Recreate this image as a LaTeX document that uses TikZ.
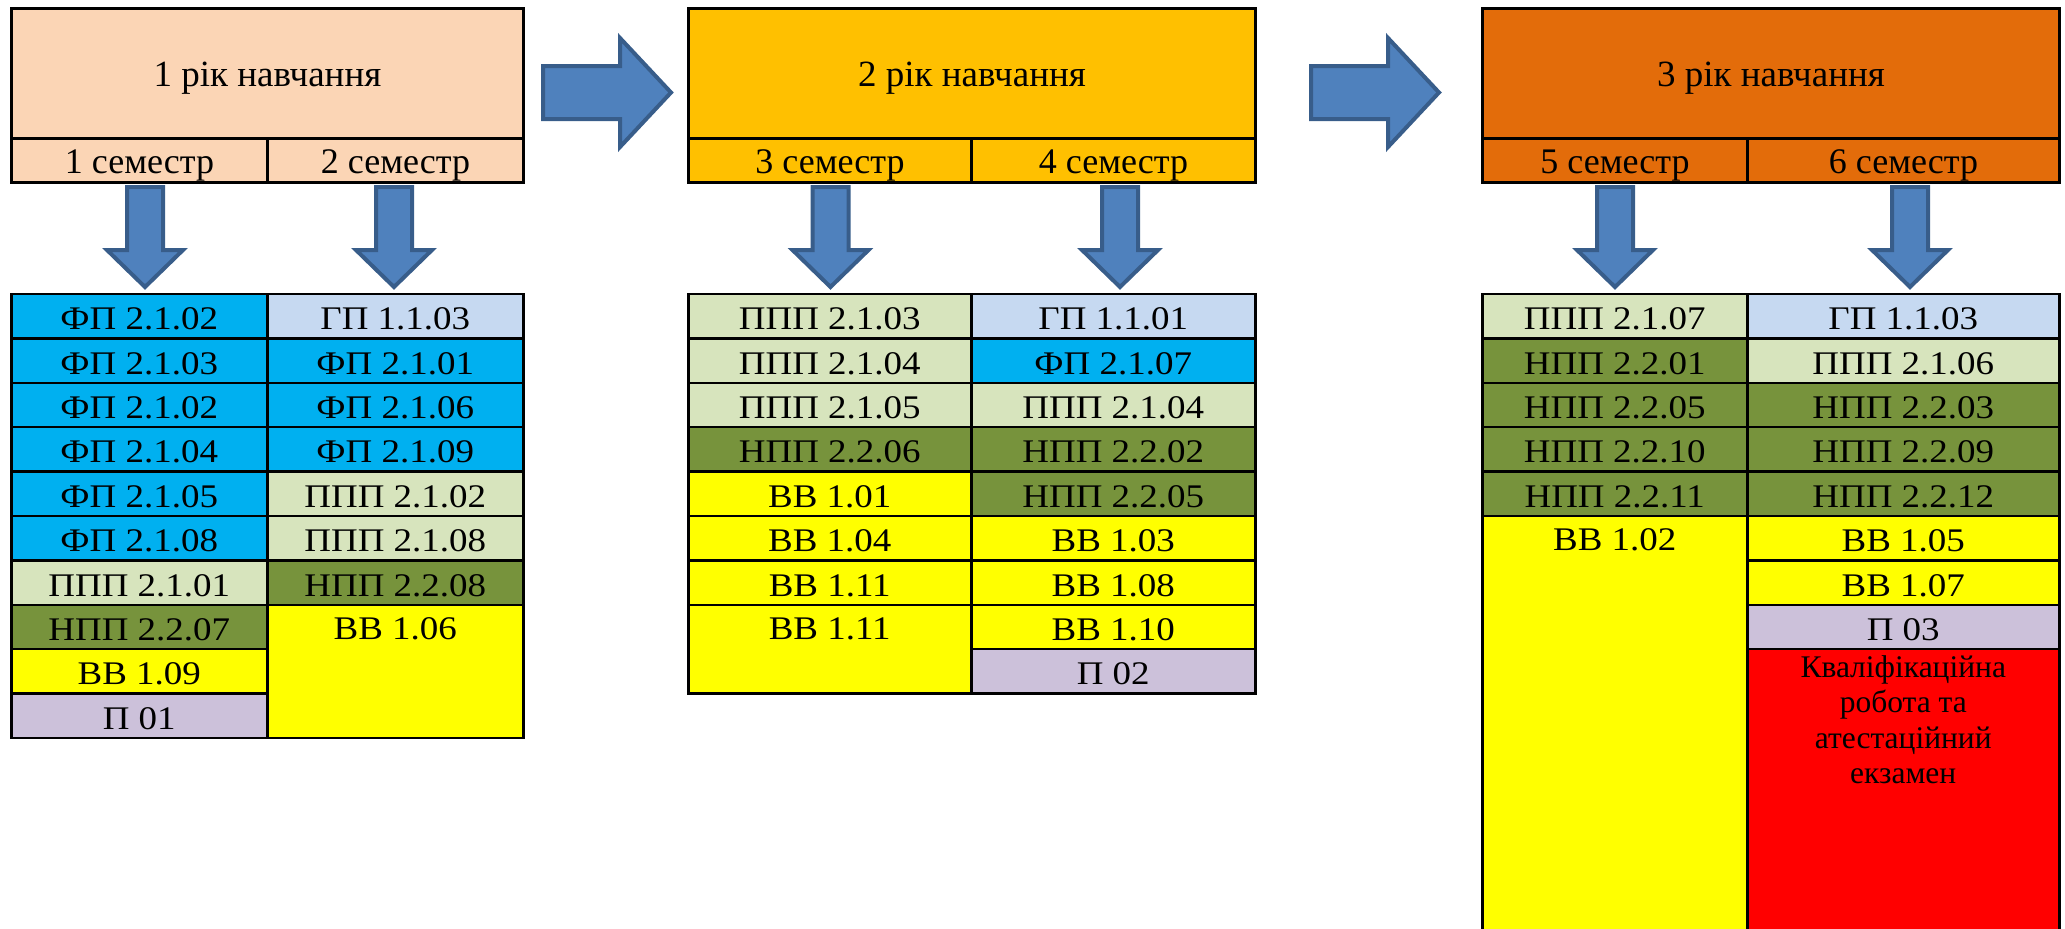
\documentclass[tikz,border=0pt]{standalone}
\usepackage{fontspec}
\setmainfont{Liberation Serif}
\newfontfamily\cellfnt[FakeStretch=1.12]{Liberation Serif}
\usetikzlibrary{calc}
\definecolor{hdrA}{RGB}{251,213,181}
\definecolor{hdrB}{RGB}{255,192,0}
\definecolor{hdrC}{RGB}{227,108,10}
\definecolor{cFP}{RGB}{0,176,240}
\definecolor{cGP}{RGB}{198,217,241}
\definecolor{cPPP}{RGB}{215,228,189}
\definecolor{cNPP}{RGB}{119,147,60}
\definecolor{cVV}{RGB}{255,255,0}
\definecolor{cP}{RGB}{204,193,218}
\definecolor{cRed}{RGB}{255,0,0}
\definecolor{arrFill}{RGB}{79,129,189}
\definecolor{arrLine}{RGB}{56,93,138}
\newcommand\mycell[6]{\node[cellbox, fill=#5, minimum width=#4] (#1) at (#2,#3) {#6};}
\newcommand\downblock[1]{\draw[blk] (#1-18,187) -- (#1+18,187) -- (#1+18,250) -- (#1+38,250) -- (#1,287) -- (#1-38,250) -- (#1-18,250) -- cycle;}
\newcommand\rightblock[1]{\draw[blk] (#1+2,66) -- (#1+79,66) -- (#1+79,38) -- (#1+130,92.5) -- (#1+79,147) -- (#1+79,119) -- (#1+2,119) -- cycle;}
\begin{document}
\begin{tikzpicture}[x=1pt,y=-1pt,
  cellbox/.style={draw=black, line width=2.5pt, rectangle, inner sep=0pt, anchor=north west,
     minimum height=44.4pt, font=\cellfnt\fontsize{33}{38}\selectfont, text height=27pt, text depth=0pt},
  spanbox/.style={draw=black, line width=2.5pt, rectangle, inner sep=0pt, anchor=north west},
  spantext/.style={inner sep=0pt, font=\cellfnt\fontsize{33}{38}\selectfont, text height=27pt, text depth=0pt},
  yearbox/.style={draw=black, line width=3pt, rectangle, inner sep=0pt, anchor=north west,
     minimum height=130pt, font=\fontsize{37}{42}\selectfont, text height=26pt, text depth=0pt},
  sembox/.style={draw=black, line width=3pt, rectangle, inner sep=0pt, anchor=north west,
     minimum height=44pt, font=\fontsize{36}{42}\selectfont, text height=25.4pt, text depth=0pt},
  blk/.style={fill=arrFill, draw=arrLine, line width=4pt, line join=miter}
]
\useasboundingbox (0,0) rectangle (2065,929);

% ---------- Year 1 ----------
\node[yearbox, fill=hdrA, minimum width=512] (y1) at (10,7) {1 рік навчання};
\node[sembox, fill=hdrA, minimum width=256] (s1) at (10,137) {1 семестр};
\node[sembox, fill=hdrA, minimum width=256] (s2) at (266,137) {2 семестр};

\mycell{a1}{10}{292.7}{256}{cFP}{ФП 2.1.02}
\mycell{a2}{10}{337.1}{256}{cFP}{ФП 2.1.03}
\mycell{a3}{10}{381.5}{256}{cFP}{ФП 2.1.02}
\mycell{a4}{10}{425.9}{256}{cFP}{ФП 2.1.04}
\mycell{a5}{10}{470.3}{256}{cFP}{ФП 2.1.05}
\mycell{a6}{10}{514.7}{256}{cFP}{ФП 2.1.08}
\mycell{a7}{10}{559.1}{256}{cPPP}{ППП 2.1.01}
\mycell{a8}{10}{603.5}{256}{cNPP}{НПП 2.2.07}
\mycell{a9}{10}{647.9}{256}{cVV}{ВВ 1.09}
\mycell{a10}{10}{692.3}{256}{cP}{П 01}

\mycell{b1}{266}{292.7}{256}{cGP}{ГП 1.1.03}
\mycell{b2}{266}{337.1}{256}{cFP}{ФП 2.1.01}
\mycell{b3}{266}{381.5}{256}{cFP}{ФП 2.1.06}
\mycell{b4}{266}{425.9}{256}{cFP}{ФП 2.1.09}
\mycell{b5}{266}{470.3}{256}{cPPP}{ППП 2.1.02}
\mycell{b6}{266}{514.7}{256}{cPPP}{ППП 2.1.08}
\mycell{b7}{266}{559.1}{256}{cNPP}{НПП 2.2.08}
\node[spanbox, fill=cVV, minimum width=256, minimum height=133.2] (b8) at (266,603.5) {};
\node[spantext] (b8t) at ($(b8.north)+(0,22.2)$) {ВВ 1.06};

% ---------- Year 2 ----------
\node[yearbox, fill=hdrB, minimum width=567] (y2) at (687,7) {2 рік навчання};
\node[sembox, fill=hdrB, minimum width=283] (s3) at (687,137) {3 семестр};
\node[sembox, fill=hdrB, minimum width=284] (s4) at (970,137) {4 семестр};

\mycell{c1}{687}{292.7}{283}{cPPP}{ППП 2.1.03}
\mycell{c2}{687}{337.1}{283}{cPPP}{ППП 2.1.04}
\mycell{c3}{687}{381.5}{283}{cPPP}{ППП 2.1.05}
\mycell{c4}{687}{425.9}{283}{cNPP}{НПП 2.2.06}
\mycell{c5}{687}{470.3}{283}{cVV}{ВВ 1.01}
\mycell{c6}{687}{514.7}{283}{cVV}{ВВ 1.04}
\mycell{c7}{687}{559.1}{283}{cVV}{ВВ 1.11}
\node[spanbox, fill=cVV, minimum width=283, minimum height=88.8] (c8) at (687,603.5) {};
\node[spantext] (c8t) at ($(c8.north)+(0,22.2)$) {ВВ 1.11};

\mycell{d1}{970}{292.7}{284}{cGP}{ГП 1.1.01}
\mycell{d2}{970}{337.1}{284}{cFP}{ФП 2.1.07}
\mycell{d3}{970}{381.5}{284}{cPPP}{ППП 2.1.04}
\mycell{d4}{970}{425.9}{284}{cNPP}{НПП 2.2.02}
\mycell{d5}{970}{470.3}{284}{cNPP}{НПП 2.2.05}
\mycell{d6}{970}{514.7}{284}{cVV}{ВВ 1.03}
\mycell{d7}{970}{559.1}{284}{cVV}{ВВ 1.08}
\mycell{d8}{970}{603.5}{284}{cVV}{ВВ 1.10}
\mycell{d9}{970}{647.9}{284}{cP}{П 02}

% ---------- Year 3 ----------
\node[yearbox, fill=hdrC, minimum width=577] (y3) at (1481,7) {3 рік навчання};
\node[sembox, fill=hdrC, minimum width=265] (s5) at (1481,137) {5 семестр};
\node[sembox, fill=hdrC, minimum width=312] (s6) at (1746,137) {6 семестр};

\mycell{e1}{1481}{292.7}{265}{cPPP}{ППП 2.1.07}
\mycell{e2}{1481}{337.1}{265}{cNPP}{НПП 2.2.01}
\mycell{e3}{1481}{381.5}{265}{cNPP}{НПП 2.2.05}
\mycell{e4}{1481}{425.9}{265}{cNPP}{НПП 2.2.10}
\mycell{e5}{1481}{470.3}{265}{cNPP}{НПП 2.2.11}
\node[spanbox, fill=cVV, minimum width=265, minimum height=440] (e6) at (1481,514.7) {};
\node[spantext] (e6t) at ($(e6.north)+(0,22.2)$) {ВВ 1.02};

\mycell{f1}{1746}{292.7}{312}{cGP}{ГП 1.1.03}
\mycell{f2}{1746}{337.1}{312}{cPPP}{ППП 2.1.06}
\mycell{f3}{1746}{381.5}{312}{cNPP}{НПП 2.2.03}
\mycell{f4}{1746}{425.9}{312}{cNPP}{НПП 2.2.09}
\mycell{f5}{1746}{470.3}{312}{cNPP}{НПП 2.2.12}
\mycell{f6}{1746}{514.7}{312}{cVV}{ВВ 1.05}
\mycell{f7}{1746}{559.1}{312}{cVV}{ВВ 1.07}
\mycell{f8}{1746}{603.5}{312}{cP}{П 03}
\node[spanbox, fill=cRed, minimum width=312, minimum height=310] (f9) at (1746,647.9) {};
\node[inner sep=0pt, anchor=north, align=center, font=\fontsize{31.5}{35.5}\selectfont] (f9t)
  at ($(f9.north)+(0,7.5)$) {Кваліфікаційна\\робота та\\атестаційний\\екзамен};

% ---------- Block arrows ----------
\rightblock{541}
\rightblock{1309}
\downblock{145}
\downblock{394}
\downblock{830.5}
\downblock{1120}
\downblock{1615}
\downblock{1910}
\end{tikzpicture}
\end{document}
